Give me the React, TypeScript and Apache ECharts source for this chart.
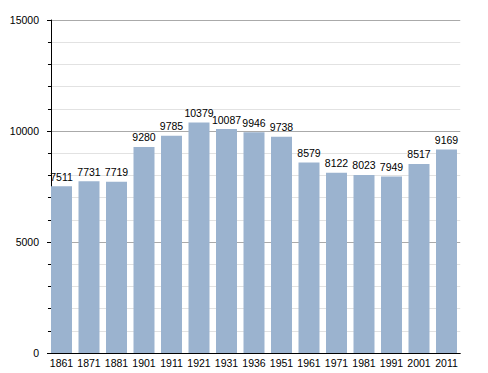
import React, { useEffect, useRef } from "react";
import * as echarts from "echarts";

const years = ["1861", "1871", "1881", "1901", "1911", "1921", "1931", "1936", "1951", "1961", "1971", "1981", "1991", "2001", "2011"];
const population = [7511, 7731, 7719, 9280, 9785, 10379, 10087, 9946, 9738, 8579, 8122, 8023, 7949, 8517, 9169];

const FONT = "Liberation Sans, Arial, sans-serif";

export default function App() {
  const ref = useRef<HTMLDivElement>(null);
  useEffect(() => {
    const chart = echarts.init(ref.current!, null, { renderer: "svg" });
    chart.setOption({
      animation: false,
      grid: { left: 47.75, right: 27.75, top: 20, bottom: 20, containLabel: false },
      xAxis: {
        type: "category",
        data: years,
        axisLine: { show: true, lineStyle: { color: "#000", width: 1 } },
        axisTick: { show: false },
        axisLabel: { interval: 0, color: "#000", fontSize: 10.5, fontFamily: FONT, margin: 4 },
      },
      yAxis: {
        type: "value",
        min: 0,
        max: 15000,
        interval: 5000,
        offset: -3.25,
        axisLine: { show: true, lineStyle: { color: "#000", width: 1 } },
        axisTick: { show: true, length: 4, lineStyle: { color: "#000" } },
        minorTick: { show: true, splitNumber: 5, length: 3, lineStyle: { color: "#000" } },
        splitLine: { show: true, lineStyle: { color: "#aaa", width: 1 } },
        minorSplitLine: { show: true, lineStyle: { color: "#e2e2e2", width: 1 } },
        axisLabel: { color: "#000", fontSize: 10.5, fontFamily: FONT, margin: 12, formatter: (v: number) => String(v) },
      },
      series: [
        {
          type: "bar",
          data: population,
          barWidth: 21,
          itemStyle: { color: "#9bb3cf" },
          label: {
            show: true,
            position: "top",
            distance: 4,
            color: "#000",
            fontSize: 10.5,
            fontFamily: FONT,
          },
        },
      ],
    });
    return () => chart.dispose();
  }, []);
  return <div ref={ref} style={{ width: 488, height: 373, position: "absolute", left: 0, top: 0 }} />;
}
